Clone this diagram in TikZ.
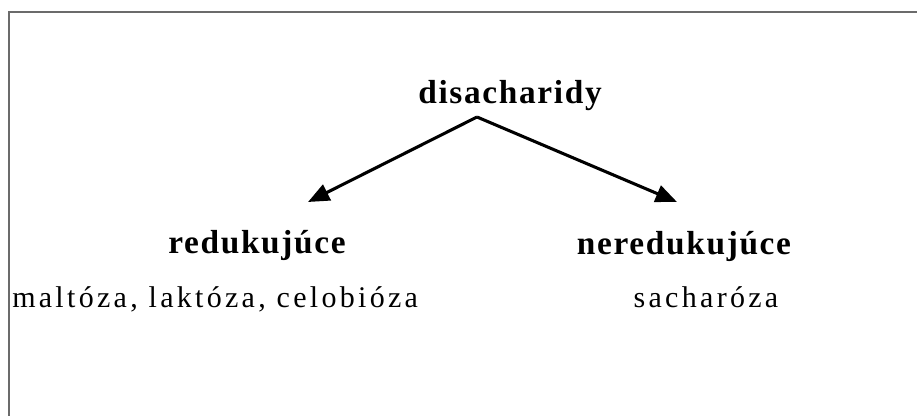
\documentclass[tikz,border=0pt]{standalone}
\usepackage{fontspec}
\setmainfont{Liberation Serif}
\usetikzlibrary{arrows.meta}
\begin{document}
\begin{tikzpicture}[x=0.75pt,y=-0.75pt,
  heading/.style={anchor=base,inner sep=0pt,
    font=\fontsize{25pt}{28pt}\bfseries\addfontfeatures{LetterSpace=5}},
  item/.style={anchor=base,inner sep=0pt,
    font=\fontsize{22.5pt}{25pt}\selectfont\addfontfeatures{LetterSpace=11}},
  branch/.style={line width=2.3pt,-{Triangle[length=16pt,width=13pt]}},
  frame/.style={draw=black!58,line width=2.2pt}]
  \useasboundingbox[fill=white] (0,0) rectangle (917,416);
  \clip (0,0) rectangle (917,416);
  % open frame: only the top and left edges are visible
  \draw[frame] (9,440) -- (9,12) -- (940,12);
  % labels
  \node[heading] (root) at (510,104) {disacharidy};
  \node[heading] (red) at (257,254) {redukujúce};
  \node[heading] (nonred) at (684,255) {neredukujúce};
  \node[item,anchor=base west] (redex) at (12,308) {maltóza, laktóza, celobióza};
  \node[item] (nonredex) at (706,308) {sacharóza};
  % branching arrows
  \coordinate (apex) at (477,117);
  \coordinate (ltip) at (308,202);
  \coordinate (rtip) at (677,202);
  \draw[branch] (apex) -- (ltip);
  \draw[branch] (apex) -- (rtip);
\end{tikzpicture}
\end{document}
